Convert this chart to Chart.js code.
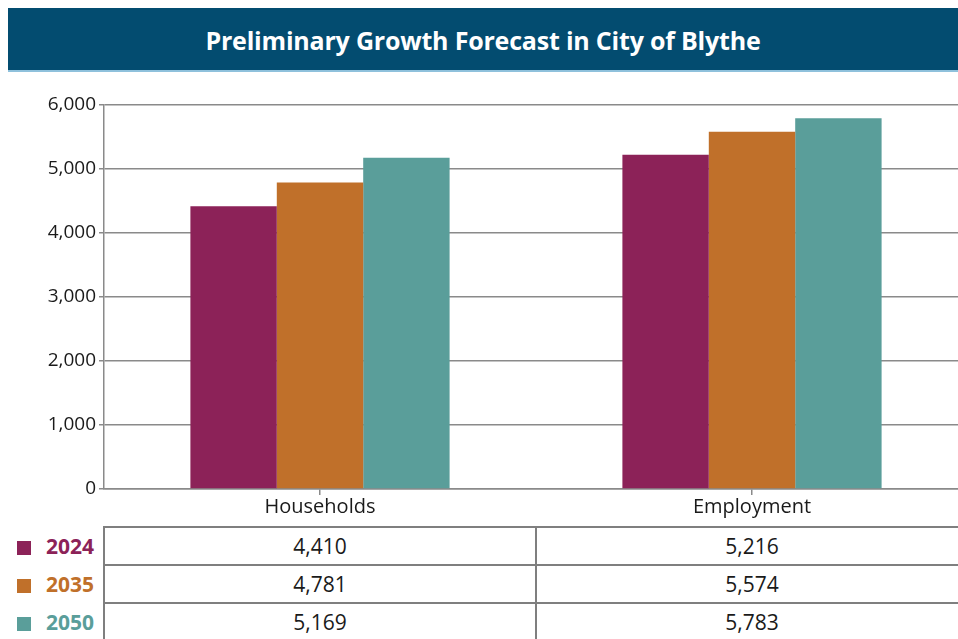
<!DOCTYPE html>
<html>
<head>
<meta charset="utf-8">
<script src="https://cdn.jsdelivr.net/npm/chart.js@4"></script>
<style>
  body { margin: 0; width: 958px; height: 639px; overflow: hidden; background: #fff; position: relative; font-family: 'Open Sans', sans-serif; }
  #titleBar { position: absolute; left: 8px; top: 8px; width: 950px; height: 62px; background: #034c70; border-bottom: 2px solid #8fc1dc;
    color: #fff; font-weight: bold; font-size: 25px; text-align: center; line-height: 64px; letter-spacing: -0.2px; }
  #chartBox { position: absolute; left: 0; top: 90px; width: 968px; height: 429px; }
  #dataTable { position: absolute; left: 0; top: 526px; width: 968px; table-layout: fixed; border-collapse: collapse; font-size: 21px; color: #1a1a1a; }
  #dataTable td { height: 36px; padding: 0; text-align: center; border: 2px solid #7f7f7f; }
  #dataTable td.leg { border: none; border-right: 2px solid #7f7f7f; text-align: left; font-weight: bold; }
  .sq { display: inline-block; width: 14px; height: 14px; margin: 0 15px 0 17px; vertical-align: -1px; }
</style>
</head>
<body>
<div id="titleBar">Preliminary Growth Forecast in City of Blythe</div>
<div id="chartBox"><canvas id="growthChart"></canvas></div>
<table id="dataTable"><colgroup><col style="width:104px"><col style="width:432px"><col style="width:432px"></colgroup></table>
<script>
const categories = ['Households', 'Employment'];
const years = ['2024', '2035', '2050'];
const values2024 = [4410, 5216];
const values2035 = [4781, 5574];
const values2050 = [5169, 5783];
const yearColors = ['#8c2258', '#c0702a', '#5a9e9a'];
const yTicks = [0, 1000, 2000, 3000, 4000, 5000, 6000];

const series = [values2024, values2035, values2050];
const gridColor = '#8a8a8a';

// table under the chart, built from the same arrays
const table = document.getElementById('dataTable');
years.forEach((yr, i) => {
    const tr = document.createElement('tr');
    let row = '<td class="leg" style="color:' + yearColors[i] + '"><span class="sq" style="background:' + yearColors[i] + '"></span>' + yr + '</td>';
    series[i].forEach(v => {
        row += '<td>' + v.toLocaleString('en-US') + '</td>';
    });
    tr.innerHTML = row;
    table.appendChild(tr);
});

const data = {
    labels: categories,
    datasets: years.map((yr, i) => ({
        label: yr,
        data: series[i],
        backgroundColor: yearColors[i],
        borderWidth: 0,
        categoryPercentage: 0.6,
        barPercentage: 1
    }))
};

const options = {
    responsive: true,
    maintainAspectRatio: false,
    animation: false,
    layout: { padding: { top: 14, right: 0, left: 0, bottom: 0 } },
    plugins: {
        legend: { display: false },
        tooltip: { enabled: false }
    },
    scales: {
        x: {
            grid: { drawOnChartArea: false, offset: false, color: gridColor, lineWidth: 1.5, tickLength: 6 },
            border: { color: gridColor, width: 1.5 },
            ticks: { color: '#1a1a1a', font: { family: "'Open Sans', sans-serif", size: 20 }, padding: 0 },
            afterFit: scale => { scale.height = 30; }
        },
        y: {
            min: 0,
            max: 6000,
            afterBuildTicks: scale => { scale.ticks = yTicks.map(v => ({ value: v })); },
            grid: { color: gridColor, lineWidth: 1.5, tickLength: 5 },
            border: { color: gridColor, width: 1.5 },
            ticks: {
                color: '#1a1a1a',
                font: { family: "'Open Sans', sans-serif", size: 19 },
                padding: 3,
                callback: v => v.toLocaleString('en-US')
            },
            afterFit: scale => { scale.width = 104; }
        }
    }
};

new Chart('growthChart', { type: 'bar', data, options });
</script>
</body>
</html>
